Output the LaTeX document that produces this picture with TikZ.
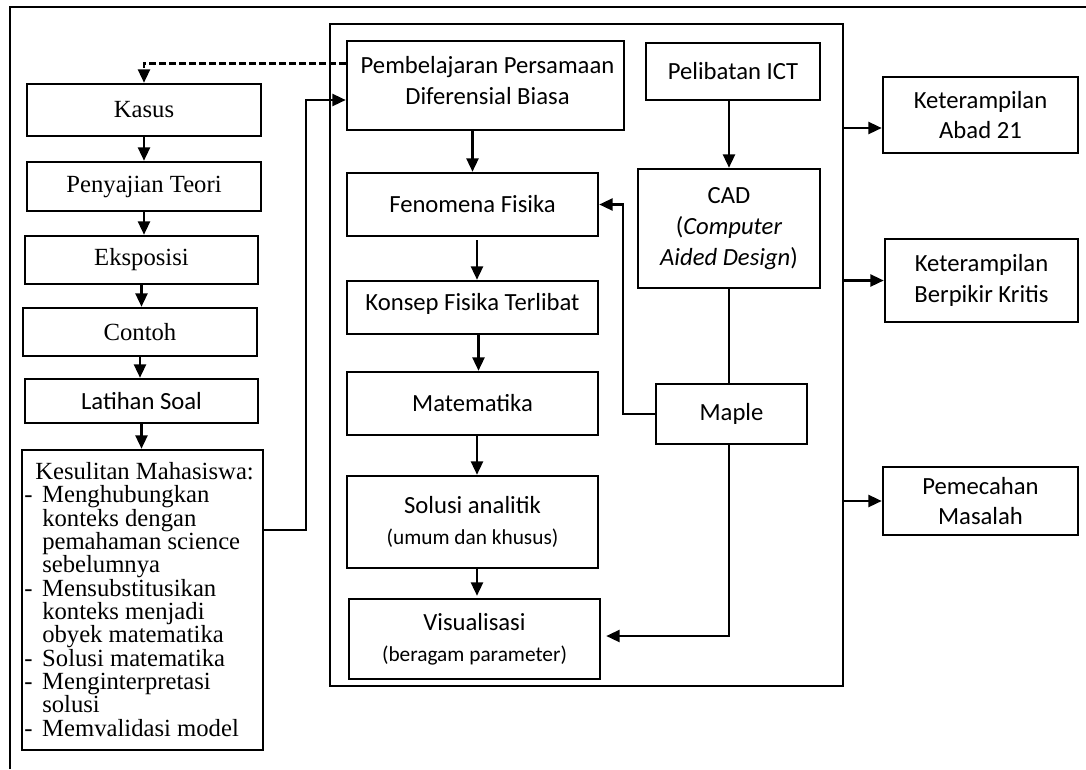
\documentclass[tikz,border=0pt]{standalone}
\usepackage{fontspec}
\setmainfont{Liberation Serif}
\newfontfamily\calib{Carlito}
\usetikzlibrary{arrows.meta,fit,calc}
\begin{document}
\begin{tikzpicture}[x=0.75pt,y=-0.75pt,
 bx/.style={draw,line width=1.9pt,inner sep=0pt},
 sf/.style={font=\calib\fontsize{18.5}{23}\selectfont,align=center,inner sep=0pt},
 rm/.style={font=\fontsize{18.5}{22}\selectfont,align=center,inner sep=0pt},
 arr/.style={-{Triangle[length=10pt,width=9pt]},line width=1.7pt},
 ln/.style={line width=1.7pt}]
\useasboundingbox (0,0) rectangle (1086,769);
% outer frame
\draw[ln] (10,769) -- (10,7) -- (1086,7);

% left column
\node[bx,fit={(27,84)(261,136)}] (kasus) {};
\node[rm] (kasusT) at (kasus.center) {Kasus};
\node[bx,fit={(27,162)(261,211)}] (teori) {};
\node[rm] (teoriT) at (teori.center) {Penyajian Teori};
\node[bx,fit={(25,236)(258,284)}] (ekspo) {};
\node[rm] (ekspoT) at (ekspo.center) {Eksposisi};
\node[bx,fit={(23,308)(257,356)}] (contoh) {};
\node[rm] (contohT) at (contoh.center) {Contoh};
\node[bx,fit={(25,379)(258,423)}] (latihan) {};
\node[sf] (latihanT) at (latihan.center) {Latihan Soal};
\node[bx,fit={(22,450)(263,750)}] (kes) {};
\node[font=\fontsize{18.5}{17.5}\selectfont,anchor=north west,inner sep=0pt,align=left] (kestext) at (24,462)
 {\hspace*{8.25pt}Kesulitan Mahasiswa:\\
  \makebox[13.5pt][l]{-}Menghubungkan\\
  \hspace*{13.5pt}konteks dengan\\
  \hspace*{13.5pt}pemahaman science\\
  \hspace*{13.5pt}sebelumnya\\
  \makebox[13.5pt][l]{-}Mensubstitusikan\\
  \hspace*{13.5pt}konteks menjadi\\
  \hspace*{13.5pt}obyek matematika\\
  \makebox[13.5pt][l]{-}Solusi matematika\\
  \makebox[13.5pt][l]{-}Menginterpretasi\\
  \hspace*{13.5pt}solusi\\
  \makebox[13.5pt][l]{-}Memvalidasi model};

% center
\node[bx,fit={(330,24)(843,686)}] (big) {};
\node[bx,fit={(347,41)(624,130)}] (pemb) {};
\node[sf] (pembT) at ($(pemb.center)+(2,-5)$) {Pembelajaran Persamaan\\Diferensial Biasa};
\node[bx,fit={(646,43)(820,100)}] (ict) {};
\node[sf] (ictT) at (ict.center) {Pelibatan ICT};
\node[bx,fit={(638,169)(820,288)}] (cad) {};
\node[sf] (cadT) at (cad.center) {CAD\\(\textit{Computer}\\\textit{Aided Design})};
\node[bx,fit={(347,173)(598,236)}] (feno) {};
\node[sf] (fenoT) at (feno.center) {Fenomena Fisika};
\node[bx,fit={(347,281)(598,334)}] (konsep) {};
\node[sf] (konsepT) at ($(konsep.center)+(0,-4)$) {Konsep Fisika Terlibat};
\node[bx,fit={(347,372)(598,435)}] (mat) {};
\node[sf] (matT) at (mat.center) {Matematika};
\node[bx,fit={(347,476)(598,568)}] (sol) {};
\node[sf] (solT) at (sol.center) {Solusi analitik\\{\fontsize{16}{21}\selectfont(umum dan khusus)}};
\node[bx,fit={(349,599)(600,679)}] (vis) {};
\node[sf] (visT) at (vis.center) {Visualisasi\\{\fontsize{16}{21}\selectfont(beragam parameter)}};
\node[bx,fit={(656,384)(807,444)}] (maple) {};
\node[sf] (mapleT) at (maple.center) {Maple};

% right
\node[bx,fit={(883,77)(1078,153)}] (k21) {};
\node[sf] (k21T) at (k21.center) {Keterampilan\\Abad 21};
\node[bx,fit={(885,239)(1078,322)}] (kritis) {};
\node[sf] (kritisT) at (kritis.center) {Keterampilan\\Berpikir Kritis};
\node[bx,fit={(883,467)(1078,535)}] (masalah) {};
\node[sf] (masalahT) at (masalah.center) {Pemecahan\\Masalah};

% left arrows
\draw[arr] (kasus.south) -- (kasus.south |- teori.north);
\draw[arr] (teori.south) -- (teori.south |- ekspo.north);
\draw[arr] (ekspo.south) -- (ekspo.south |- contoh.north);
\draw[arr] (contoh.south) -- (contoh.south |- latihan.north);
\draw[arr] (latihan.south) -- (latihan.south |- kes.north);

% dashed feedback
\coordinate (dsh) at ($(pemb.north west)!0.26!(pemb.south west)$);
\draw[arr,dash pattern=on 5pt off 2.5pt] (dsh) -| (kasus.north);

% solid link
\coordinate (c1) at (306,530);
\coordinate (c2) at (306,100);
\draw[arr] (kes.east |- c1) -- (c1) -- (c2) -- (pemb.west |- c2);

% center arrows
\draw[arr] (feno.north |- pemb.south) -- (feno.north);
\draw[arr] ($(feno.south)+(4.5,3)$) -- ($(konsep.north)+(4.5,0)$);
\draw[arr] ($(konsep.south)+(6,0)$) -- ($(mat.north)+(6,0)$);
\draw[arr] ($(mat.south)+(4.5,0)$) -- ($(sol.north)+(4.5,0)$);
\draw[arr] ($(sol.south)+(4.5,0)$) -- ($(sol.south |- vis.north)+(4.5,-2)$);
\draw[arr] (cad.north |- ict.south) -- (cad.north);
\draw[ln] (cad.south) -- (cad.south |- maple.north);
\coordinate (c3) at (729,636);
\draw[arr,shorten >=3.75pt] (cad.south |- maple.south) -- (c3) -- (vis.east |- c3);
\coordinate (c4) at (623,412);
\draw[arr] (maple.west) -- (c4 |- maple.west) -- (c4 |- feno.east) -- (feno.east);

% right arrows
\coordinate (c5) at (843,128);
\draw[arr] (c5) -- (k21.west |- c5);
\draw[arr] (big.east |- kritis.west) -- (kritis.west);
\draw[arr] (big.east |- masalah.west) -- (masalah.west);
\end{tikzpicture}
\end{document}
